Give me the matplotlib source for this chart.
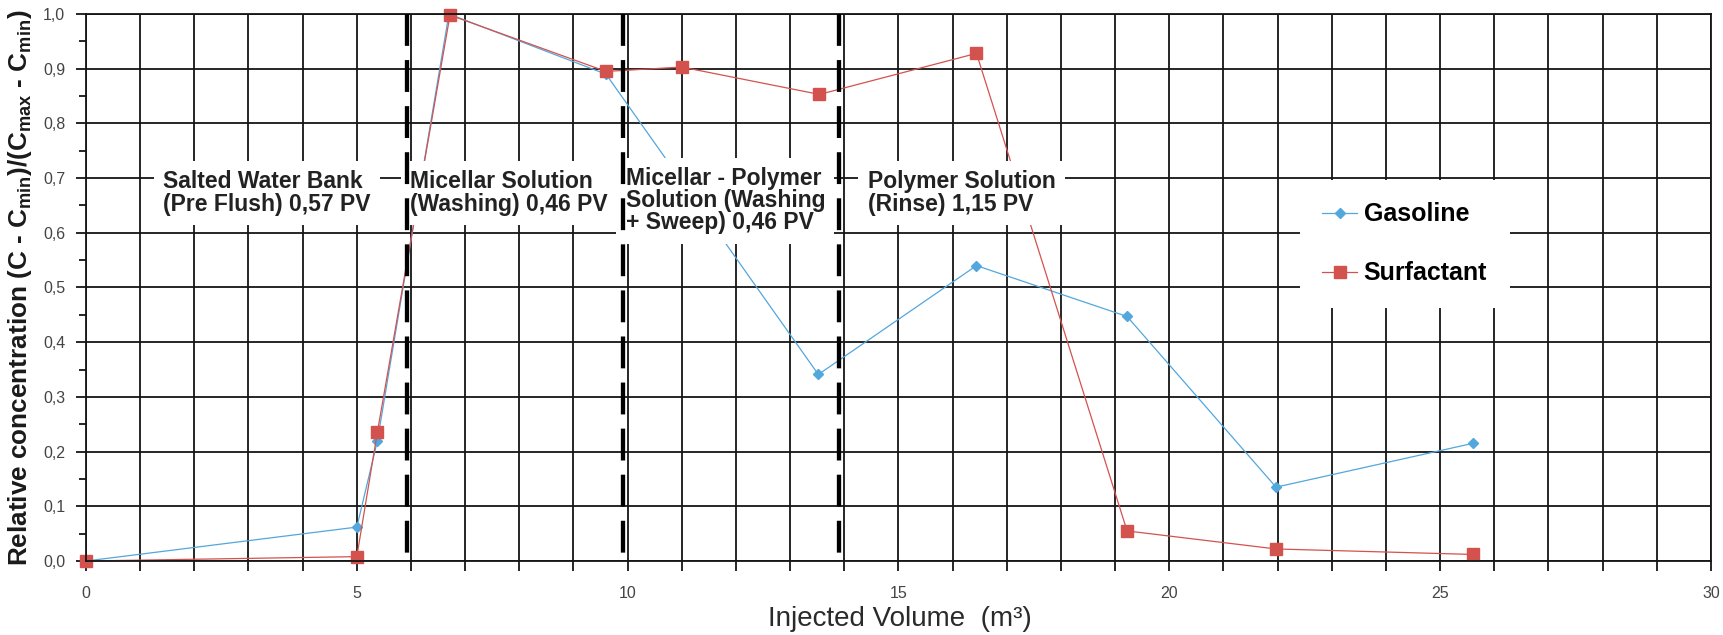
import numpy as np
import matplotlib
matplotlib.use('Agg')
import matplotlib.pyplot as plt
from matplotlib.ticker import MultipleLocator, FuncFormatter

plt.rcParams['font.family'] = ['Liberation Sans', 'DejaVu Sans']
plt.rcParams['mathtext.fontset'] = 'custom'
plt.rcParams['mathtext.rm'] = 'Liberation Sans'
plt.rcParams['mathtext.bf'] = 'Liberation Sans:bold'
plt.rcParams['mathtext.it'] = 'Liberation Sans:italic'

# data
gas_x = [0, 5.0, 5.38, 6.7, 9.6, 13.52, 16.44, 19.22, 21.97, 25.6]
gas_y = [0, 0.062, 0.22, 1.0, 0.89, 0.341, 0.54, 0.447, 0.135, 0.215]
surf_x = [0, 5.0, 5.38, 6.72, 9.6, 11.0, 13.54, 16.44, 19.22, 21.97, 25.6]
surf_y = [0, 0.008, 0.236, 0.998, 0.895, 0.903, 0.853, 0.928, 0.055, 0.022, 0.012]

# phase boundaries (injected volume)
phase_x = [5.92, 9.91, 13.9]
phase_labels = ['Salted Water Bank\n(Pre Flush) 0,57 PV',
                'Micellar Solution\n(Washing) 0,46 PV',
                'Micellar - Polymer\nSolution (Washing\n+ Sweep) 0,46 PV',
                'Polymer Solution\n(Rinse) 1,15 PV']
label_x = [1.42, 5.98, 9.96, 14.43]
label_y = [0.714, 0.714, 0.72, 0.714]

blue = '#52A7DD'
red = '#D4524E'

W, H = 1724, 635
fig = plt.figure(figsize=(W/100, H/100), dpi=100)
ax = fig.add_axes([86/W, 1-561/H, (1711-86)/W, (561-14)/H])

ax.set_xlim(0, 30)
ax.set_ylim(0, 1.0)
ax.xaxis.set_major_locator(MultipleLocator(5))
ax.xaxis.set_minor_locator(MultipleLocator(1))
ax.yaxis.set_major_locator(MultipleLocator(0.1))
ax.yaxis.set_minor_locator(MultipleLocator(0.05))
ax.yaxis.set_major_formatter(FuncFormatter(lambda v, p: '{:.1f}'.format(v).replace('.', ',')))

ax.grid(which='both', axis='x', color='#151515', lw=1.3, zorder=0.5)
ax.grid(which='major', axis='y', color='#151515', lw=1.3, zorder=0.5)
ax.set_axisbelow(True)
for s in ax.spines.values():
    s.set_color('#151515')
    s.set_linewidth(1.3)

ax.tick_params(axis='x', which='both', length=7, width=1.3, color='#151515', pad=11,
               labelsize=11.5, labelcolor='#444444')
ax.tick_params(axis='y', which='major', length=7, width=1.3, color='#151515', pad=8,
               labelsize=11.5, labelcolor='#444444')
ax.tick_params(axis='y', which='minor', length=5, width=1.3, color='#151515')

ax.plot(gas_x, gas_y, color=blue, lw=0.9, marker='D', ms=5, mec=blue, mfc=blue,
        label='Gasoline', zorder=2, clip_on=False)
ax.plot(surf_x, surf_y, color=red, lw=0.9, marker='s', ms=8.5, mec=red, mfc=red,
        label='Surfactant', zorder=2.1, clip_on=False)

for i in range(len(phase_labels)):
    ax.text(label_x[i], label_y[i], phase_labels[i], fontsize=16.5, fontweight='bold',
            color='#222222', ha='left', va='top', linespacing=0.95, zorder=3,
            bbox=dict(boxstyle='square,pad=0.4', facecolor='white', edgecolor='none'))

for x in phase_x:
    ax.plot([x, x], [1.0, 0.0], color='black', lw=3.1, dashes=(7.4, 3.3),
            solid_capstyle='butt', dash_capstyle='butt', zorder=4)

leg = ax.legend(loc='upper left', bbox_to_anchor=(1300/W, 1-180/H), bbox_transform=fig.transFigure,
                borderaxespad=0, frameon=True, fancybox=False, framealpha=1,
                facecolor='white', edgecolor='none', prop={'size': 18, 'weight': 'bold'},
                handlelength=1.4, handletextpad=0.25, labelspacing=1.4, borderpad=0.9)
leg.set_zorder(5)

ax.set_ylabel(r'Relative concentration (C - C$_{\mathbf{min}}$)/(C$_{\mathbf{max}}$ - C$_{\mathbf{min}}$)',
              fontsize=18.8, fontweight='bold', color='#1a1a1a')
ax.yaxis.set_label_coords(-0.032, 0.5)
ax.set_xlabel('Injected Volume  (m³)', fontsize=20, color='#2a2a2a',
              family=['Liberation Sans Narrow', 'Liberation Sans'])
ax.xaxis.set_label_coords(0.501, -0.082)

fig.savefig('out.png', dpi=100, facecolor='white')
